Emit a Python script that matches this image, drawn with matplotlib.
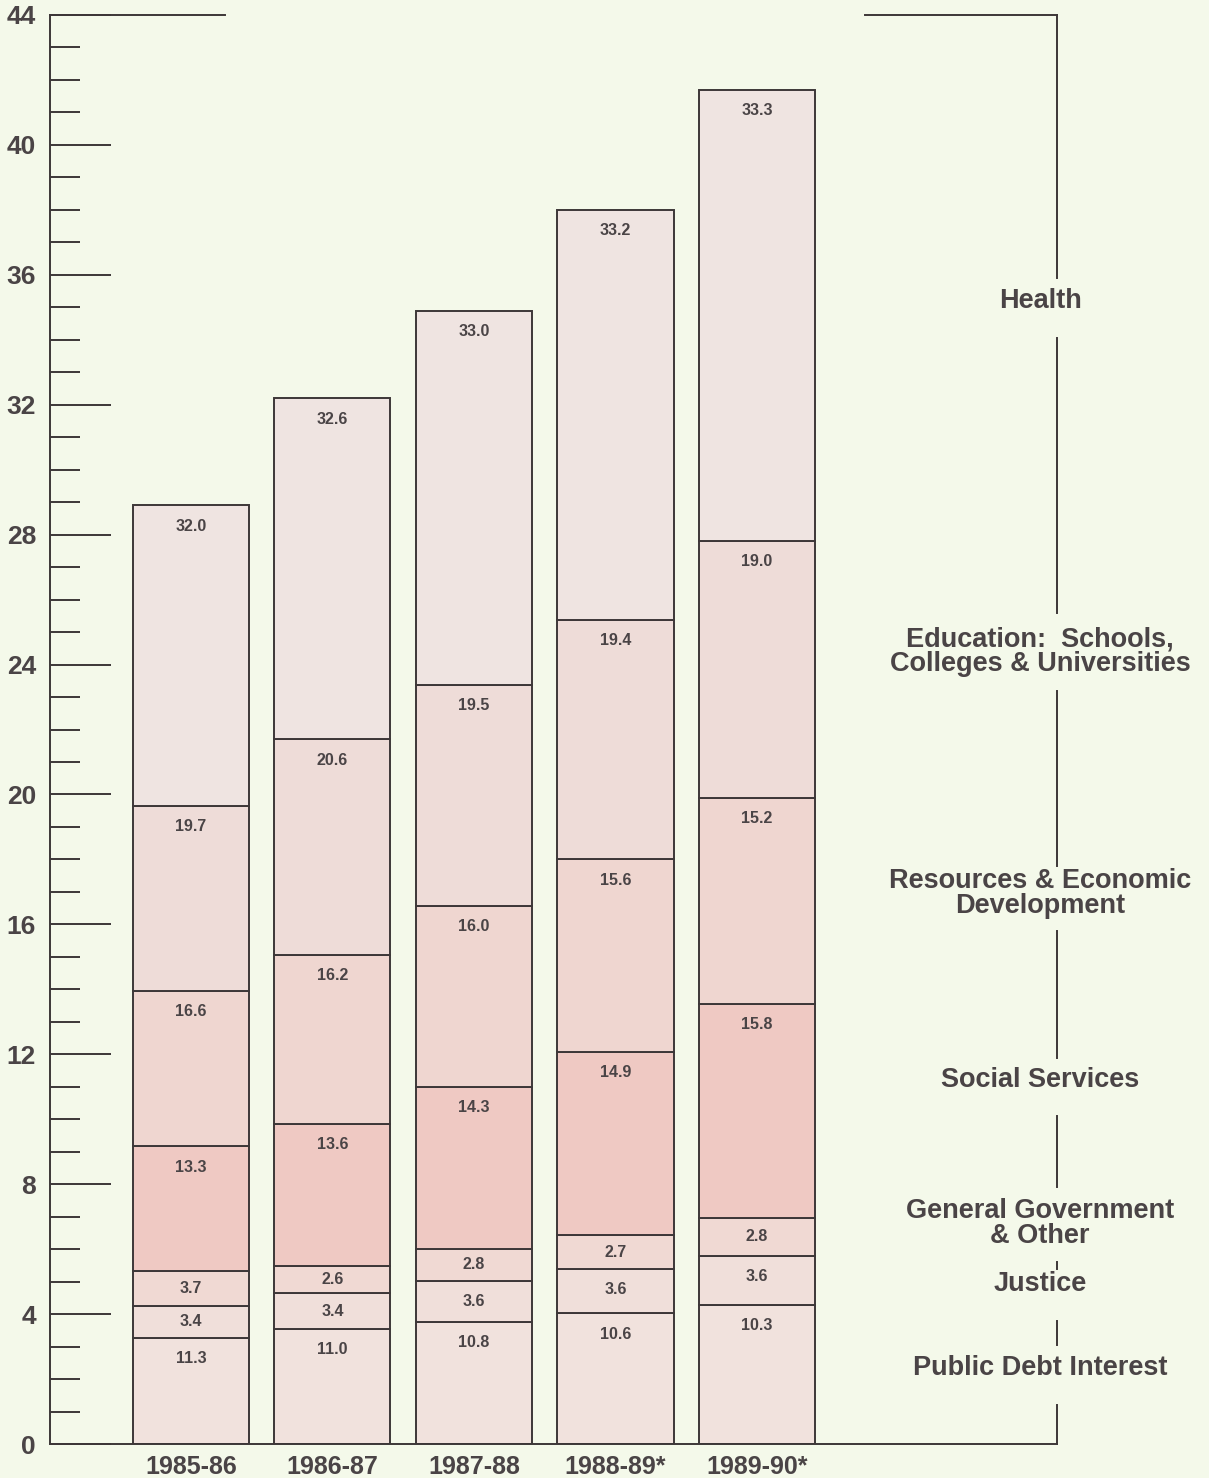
import numpy as np
import matplotlib.pyplot as plt

plt.rcParams['font.family'] = ['Liberation Sans', 'DejaVu Sans']

# fiscal years and total spending ($ billions)
years = ['1985-86', '1986-87', '1987-88', '1988-89*', '1989-90*']
totals = [28.9, 32.2, 34.9, 38.0, 41.7]

# share of spending by function (%), bottom to top
categories = ['Public Debt Interest', 'Justice', 'General Government\n& Other',
              'Social Services', 'Resources & Economic\nDevelopment',
              'Education:  Schools,\nColleges & Universities', 'Health']
debt = [11.3, 11.0, 10.8, 10.6, 10.3]
justice = [3.4, 3.4, 3.6, 3.6, 3.6]
general = [3.7, 2.6, 2.8, 2.7, 2.8]
social = [13.3, 13.6, 14.3, 14.9, 15.8]
resources = [16.6, 16.2, 16.0, 15.6, 15.2]
education = [19.7, 20.6, 19.5, 19.4, 19.0]
health = [32.0, 32.6, 33.0, 33.2, 33.3]
shares = [debt, justice, general, social, resources, education, health]

colors = ['#f1e2dd', '#f0dfda', '#f0d9d3', '#efc9c3', '#efd6d0', '#eedcd8', '#efe4e1']
label_y = [2.34, 4.93, 6.8, 11.2, 16.96, 24.4, 35.2]
# pieces of the bracket line on the right, between the labels
bracket = [(0, 1.2), (3.05, 3.8), (5.4, 5.6), (7.9, 10.1), (11.9, 15.8),
           (17.8, 23.2), (25.6, 34.05), (35.9, 44)]

ink = '#3d3738'
text_c = '#4a4446'
bg = '#f4f9ea'

fig = plt.figure(figsize=(12.09, 14.78), dpi=100, facecolor=bg)
ax = fig.add_axes([50 / 1209, 34 / 1478, 1007 / 1209, 1429 / 1478], facecolor=bg)

x = np.arange(len(years))
width = 0.82
bottom = np.zeros(len(years))
px = 44 / 1429  # data units per pixel
for vals, col in zip(shares, colors):
    h = np.array(vals) * np.array(totals) / 100
    ax.bar(x, h, width, bottom=bottom, color=col, edgecolor=ink, linewidth=1.4, zorder=2)
    for xi, b, hi, v in zip(x, bottom, h, vals):
        off = min(21 * px, hi / 2)
        ax.text(xi, b + hi - off, f'{v:.1f}', ha='center', va='center',
                fontsize=11.5, fontweight='bold', color=text_c, zorder=3)
    bottom += h

ax.set_xlim(-0.996, 6.12)
ax.set_ylim(0, 44)

for s in ['top', 'right']:
    ax.spines[s].set_visible(False)
for s in ['left', 'bottom']:
    ax.spines[s].set_color(ink)
    ax.spines[s].set_linewidth(1.4)

ax.set_yticks(np.arange(0, 45, 4))
ax.set_yticks(np.arange(0, 45, 1), minor=True)
ax.tick_params(axis='y', which='major', direction='in', length=44, width=1.4,
               color=ink, pad=10, labelsize=19, labelcolor=text_c)
ax.tick_params(axis='y', which='minor', direction='in', length=21.5, width=1.4, color=ink)
for lab in ax.get_yticklabels():
    lab.set_fontweight('bold')

ax.set_xticks(x)
ax.set_xticklabels(years, fontweight='bold')
ax.tick_params(axis='x', length=0, pad=8, labelsize=18, labelcolor=text_c)

# top edge, broken over the bars, and the bracket on the right
ax.plot([-0.996, 0.241], [44, 44], color=ink, lw=1.4, clip_on=False)
ax.plot([4.764, 6.12], [44, 44], color=ink, lw=1.4, clip_on=False)
for y0, y1 in bracket:
    ax.plot([6.12, 6.12], [y0, y1], color=ink, lw=1.4, clip_on=False)

for name, yv in zip(categories, label_y):
    ax.text(6.0, yv, name, ha='center', va='center', fontsize=19.5, fontweight='bold',
            color=text_c, linespacing=0.95)

fig.savefig('out.png', dpi=100, facecolor=bg)
